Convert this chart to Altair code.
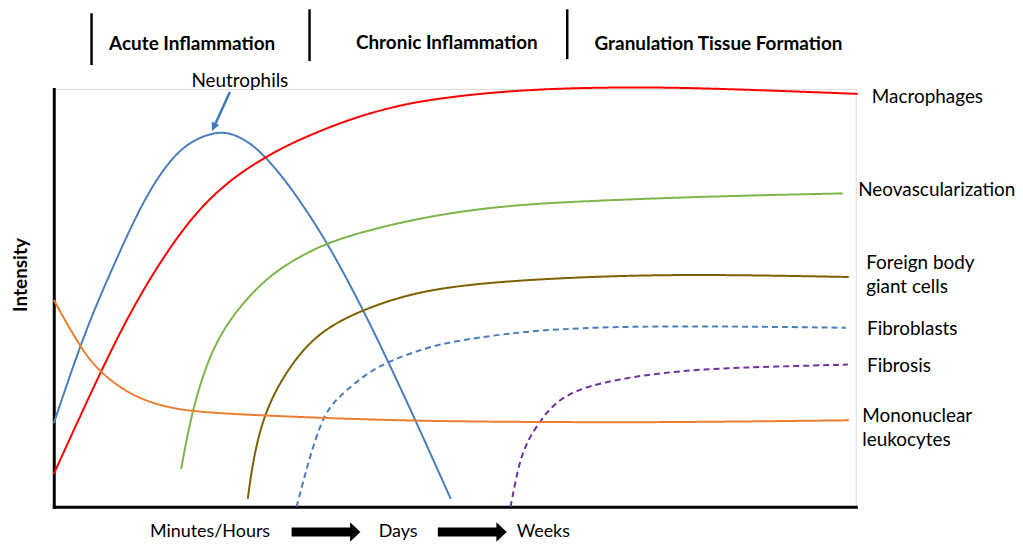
import altair as alt
import pandas as pd

# ---- series data (x: time units 0-100, y: intensity 0-100) ----
neutro_x = [0, 3.23, 5.71, 9.43, 11.50, 13.56, 15.63, 17.70, 20.19, 22.25, 24.73, 26.80, 28.87, 30.93, 34.24, 38.59, 41.69, 45.16, 49.50]
neutro_y = [20.0, 38.33, 50.24, 66.19, 74.12, 80.48, 85.24, 88.02, 89.7, 89.45, 86.83, 82.86, 78.10, 72.55, 62.86, 47.14, 34.76, 20.48, 1.90]

macro_x = [0, 5.71, 9.80, 14.02, 18.11, 22.21, 26.43, 30.52, 36.35, 40.45, 44.54, 48.76, 52.85, 59.06, 65.26, 75.19, 87.59, 100.25]
macro_y = [7.86, 31.90, 47.62, 60.95, 71.43, 78.57, 83.81, 87.86, 92.38, 94.76, 96.67, 97.86, 98.81, 99.76, 100.24, 100.48, 99.76, 98.81]

neo_x = [15.88, 17.25, 19.73, 23.08, 26.80, 30.52, 34.24, 40.45, 48.76, 56.95, 65.26, 81.39, 98.39]
neo_y = [9.05, 23.33, 38.33, 47.86, 55.24, 59.76, 63.33, 66.90, 70.24, 72.14, 73.10, 74.29, 75.0]

fbgc_x = [24.19, 24.69, 25.43, 26.43, 28.04, 30.52, 33.0, 35.48, 38.59, 44.54, 52.85, 65.26, 79.28, 99.13]
fbgc_y = [1.90, 9.05, 16.19, 22.62, 29.29, 36.43, 41.19, 44.29, 47.14, 51.19, 53.57, 55.0, 55.71, 55.0]

fibroblast_x = [30.27, 31.02, 31.76, 32.63, 33.62, 34.86, 36.35, 38.83, 41.69, 45.41, 48.76, 56.95, 65.26, 77.67, 98.76]
fibroblast_y = [0, 5.48, 10.71, 16.19, 21.43, 25.0, 27.62, 31.67, 34.76, 37.38, 39.29, 41.67, 42.86, 43.33, 42.86]

fibrosis_x = [56.95, 57.57, 58.19, 59.18, 60.55, 61.79, 63.15, 65.01, 67.37, 73.57, 81.76, 90.07, 99.01]
fibrosis_y = [0, 6.19, 11.43, 16.19, 20.24, 23.33, 25.71, 27.62, 29.29, 31.67, 33.10, 33.57, 34.05]

mono_x = [0, 3.23, 5.71, 9.80, 14.02, 18.11, 28.04, 44.54, 65.26, 77.67, 99.13]
mono_y = [49.52, 38.33, 32.14, 26.43, 23.81, 22.62, 21.67, 20.48, 20.24, 20.24, 20.71]

series = [
    ("Neutrophils", neutro_x, neutro_y, "solid"),
    ("Macrophages", macro_x, macro_y, "solid"),
    ("Neovascularization", neo_x, neo_y, "solid"),
    ("Foreign body giant cells", fbgc_x, fbgc_y, "solid"),
    ("Fibroblasts", fibroblast_x, fibroblast_y, "dashed"),
    ("Fibrosis", fibrosis_x, fibrosis_y, "dashed"),
    ("Mononuclear leukocytes", mono_x, mono_y, "solid"),
]
names = [s[0] for s in series]
colors = ["#4a7ebb", "#ff0000", "#7ab648", "#7f6000", "#4a7ebb", "#7030a0", "#ed7d31"]

# ---- labels ----
label_text = ["Macrophages", "Neovascularization", "Foreign body\ngiant cells", "Fibroblasts", "Fibrosis", "Mononuclear\nleukocytes"]
label_x = [102.0, 100.3, 101.3, 101.4, 101.4, 100.8]
label_y = [98.10, 75.71, 58.33, 42.62, 33.81, 21.67]

phase_text = ["Acute Inflammation", "Chronic Inflammation", "Granulation Tissue Formation"]
phase_x = [17.25, 49.01, 82.88]
phase_y = [110.71, 110.95, 110.71]
sep_x = [4.71, 31.89, 64.02]
sep_y1 = [105.71, 106.67, 107.14]
sep_y2 = [118.10, 119.05, 119.05]

time_text = ["Minutes/Hours", "Days", "Weeks"]
time_x = [19.48, 42.93, 61.04]
time_y = [-5.95, -5.95, -5.95]
arrow_x1 = [29.65, 47.89]
arrow_x2 = [37.3, 55.4]
arrow_head_x = [37.59, 55.83]
arrow_y = [-6.0, -6.0]

rows = []
for name, xs, ys, dash in series:
    for i, (xv, yv) in enumerate(zip(xs, ys)):
        rows.append({"series": name, "x": xv, "y": yv, "dash": dash, "order": i})
df = pd.DataFrame(rows)

X = alt.Scale(domain=[0, 100], nice=False, zero=False)
Y = alt.Scale(domain=[0, 100], nice=False, zero=False)
FONT = "Lato"

lines = alt.Chart(df).mark_line(strokeWidth=2, interpolate="basis", clip=False).encode(
    x=alt.X("x:Q", scale=X, axis=alt.Axis(title=None, labels=False, ticks=False, grid=False,
                                           domainColor="black", domainWidth=3, domainCap="square")),
    y=alt.Y("y:Q", scale=Y, axis=alt.Axis(title=None, labels=False, ticks=False, grid=False,
                                           domainColor="black", domainWidth=3, domainCap="square")),
    color=alt.Color("series:N", scale=alt.Scale(domain=names, range=colors), legend=None),
    strokeDash=alt.StrokeDash("dash:N", scale=alt.Scale(domain=["solid", "dashed"], range=[[1, 0], [6, 4]]), legend=None),
    order="order:Q",
    detail="series:N",
)

lab_df = pd.DataFrame({"t": label_text, "x": label_x, "y": label_y})
labels = alt.Chart(lab_df).mark_text(align="left", baseline="middle", font=FONT, fontSize=19,
                                     lineBreak="\n", lineHeight=24, color="black").encode(
    x=alt.X("x:Q", scale=X), y=alt.Y("y:Q", scale=Y), text="t:N")

neut_df = pd.DataFrame({"t": ["Neutrophils"], "x": [23.20], "y": [101.90]})
neut = alt.Chart(neut_df).mark_text(align="center", baseline="middle", font=FONT, fontSize=19, color="black").encode(
    x=alt.X("x:Q", scale=X), y=alt.Y("y:Q", scale=Y), text="t:N")

arr_df = pd.DataFrame({"x": [21.96], "y": [99.29], "x2": [20.04], "y2": [91.19]})
arr_line = alt.Chart(arr_df).mark_rule(color="#3f78c0", strokeWidth=2.5).encode(
    x=alt.X("x:Q", scale=X), y=alt.Y("y:Q", scale=Y), x2="x2:Q", y2="y2:Q")
head_df = pd.DataFrame({"x": [19.94], "y": [90.86]})
arr_head = alt.Chart(head_df).mark_point(shape="M-1,-1 L1,0 L-1,1 Z", size=70, filled=True, opacity=1,
                                         color="#3f78c0", angle=115).encode(
    x=alt.X("x:Q", scale=X), y=alt.Y("y:Q", scale=Y))

ph_df = pd.DataFrame({"t": phase_text, "x": phase_x, "y": phase_y})
phases = alt.Chart(ph_df).mark_text(align="center", baseline="middle", font=FONT, fontSize=19,
                                    fontWeight="bold", color="black").encode(
    x=alt.X("x:Q", scale=X), y=alt.Y("y:Q", scale=Y), text="t:N")

sep_df = pd.DataFrame({"x": sep_x, "y": sep_y1, "y2": sep_y2})
seps = alt.Chart(sep_df).mark_rule(color="black", strokeWidth=2.5).encode(
    x=alt.X("x:Q", scale=X), y=alt.Y("y:Q", scale=Y), y2="y2:Q")

tm_df = pd.DataFrame({"t": time_text, "x": time_x, "y": time_y})
times = alt.Chart(tm_df).mark_text(align="center", baseline="middle", font=FONT, fontSize=18, color="black").encode(
    x=alt.X("x:Q", scale=X), y=alt.Y("y:Q", scale=Y), text="t:N")

ab_df = pd.DataFrame({"x": arrow_x1, "x2": arrow_x2, "y": arrow_y})
arrow_bodies = alt.Chart(ab_df).mark_rule(color="black", strokeWidth=9).encode(
    x=alt.X("x:Q", scale=X), x2="x2:Q", y=alt.Y("y:Q", scale=Y))
ah_df = pd.DataFrame({"x": arrow_head_x, "y": arrow_y})
arrow_heads = alt.Chart(ah_df).mark_point(shape="M-0.53,-1 L0.53,0 L-0.53,1 Z", size=380, filled=True,
                                          opacity=1, color="black").encode(
    x=alt.X("x:Q", scale=X), y=alt.Y("y:Q", scale=Y))

it_df = pd.DataFrame({"t": ["Intensity"], "x": [-4.1], "y": [55.48]})
ytitle = alt.Chart(it_df).mark_text(align="center", baseline="middle", font=FONT, fontSize=19,
                                    fontWeight="bold", angle=270, color="black").encode(
    x=alt.X("x:Q", scale=X), y=alt.Y("y:Q", scale=Y), text="t:N")

chart = alt.layer(
    lines, labels, neut, arr_line, arr_head, phases, seps, times, arrow_bodies, arrow_heads, ytitle
).properties(
    width=806, height=420,
    autosize=alt.AutoSizeParams(type="none"),
    padding={"left": 46, "top": 80, "right": 160, "bottom": 36},
).configure_view(stroke=None).configure(background="white")

chart.save("out.html", embed_options={"renderer": "svg", "actions": False})
